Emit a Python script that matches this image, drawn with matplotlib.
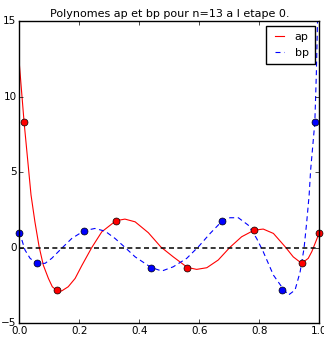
import numpy as np
import matplotlib
matplotlib.use("Agg")
import matplotlib.pyplot as plt

# interpolation nodes (dots)
ap_nodes_x = [0.016, 0.127, 0.322, 0.56, 0.783, 0.941, 1.0]
ap_nodes_y = [8.3, -2.82, 1.77, -1.32, 1.15, -1.0, 1.0]
bp_nodes_x = [0.0, 0.058, 0.216, 0.44, 0.677, 0.875, 0.985]
bp_nodes_y = [1.0, -1.03, 1.13, -1.32, 1.78, -2.8, 8.3]

# curves
ap_x = [0.0, 0.016, 0.039, 0.052, 0.066, 0.08, 0.097, 0.11, 0.126, 0.141,
        0.163, 0.186, 0.208, 0.241, 0.275, 0.322, 0.352, 0.386, 0.43, 0.472,
        0.513, 0.56, 0.591, 0.625, 0.663, 0.702, 0.741, 0.783, 0.813, 0.847,
        0.886, 0.913, 0.941, 0.963, 0.975, 0.988, 1.0]
ap_y = [12.2, 8.3, 3.5, 1.72, 0.07, -1.15, -2.03, -2.58, -2.84, -2.86,
        -2.58, -2.03, -1.19, 0.0, 1.06, 1.79, 1.9, 1.72, 1.0, 0.05,
        -0.6, -1.3, -1.43, -1.32, -0.81, 0.03, 0.73, 1.17, 1.24, 0.95,
        0.07, -0.6, -1.03, -0.7, -0.25, 0.4, 1.0]
bp_x = [0.0, 0.019, 0.036, 0.058, 0.086, 0.108, 0.141, 0.175, 0.216, 0.252,
        0.286, 0.319, 0.352, 0.386, 0.439, 0.475, 0.513, 0.558, 0.597, 0.636,
        0.677, 0.702, 0.73, 0.763, 0.791, 0.813, 0.847, 0.875, 0.897, 0.919,
        0.936, 0.949, 0.958, 0.966, 0.971, 0.985, 0.99, 0.994]
bp_y = [1.06, -0.15, -0.7, -1.03, -1.03, -0.7, -0.04, 0.62, 1.13, 1.28,
        1.1, 0.62, 0.03, -0.6, -1.3, -1.54, -1.26, -0.7, 0.07, 0.95,
        1.79, 1.99, 1.99, 1.5, 0.62, -0.26, -1.81, -2.6, -3.13, -2.8,
        -1.59, -0.04, 1.72, 3.49, 5.15, 8.3, 11.5, 15.1]

plt.style.use('classic')
plt.rcParams['font.family'] = ['DejaVu Sans']

fig = plt.figure(figsize=(3.24, 3.37), dpi=100, facecolor='white')
ax = fig.add_axes([0.0596, 0.0407, 0.926, 0.8961])

ax.plot(ap_x, ap_y, 'r-', lw=0.8, label='ap')
ax.plot(bp_x, bp_y, 'b--', lw=0.8, dashes=(3.6, 2.6), label='bp')
ax.axhline(0, color='k', ls='--', lw=1.1, dashes=(3.6, 2.4))
ax.plot(ap_nodes_x, ap_nodes_y, 'ro', ms=5, mec='k', mew=0.5, clip_on=False)
ax.plot(bp_nodes_x, bp_nodes_y, 'bo', ms=5, mec='k', mew=0.5, clip_on=False)

ax.set_xlim(0, 1)
ax.set_ylim(-5, 15)
ax.set_xticks([0.0, 0.2, 0.4, 0.6, 0.8, 1.0])
ax.set_yticks([-5, 0, 5, 10, 15])
ax.tick_params(labelsize=7.5, length=3, direction='in', top=True, right=True, pad=2)
ax.set_title('Polynomes ap et bp pour n=13 a l etape 0.', fontsize=8, pad=3)
ax.legend(loc='upper right', fontsize=8, handlelength=1.35, borderaxespad=0.42,
          labelspacing=0.55, handletextpad=0.67, borderpad=0.55)

fig.savefig('out.png', dpi=100, facecolor='white')
